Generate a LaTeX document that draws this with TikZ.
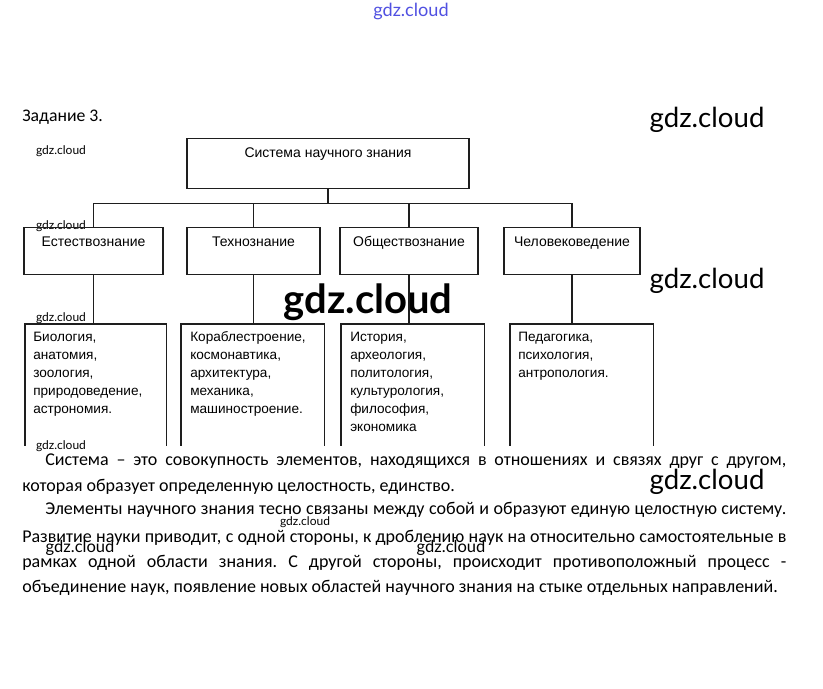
\documentclass[tikz,border=0pt]{standalone}
\usepackage{fontspec}
\setmainfont{Carlito}
\newfontfamily\boxfont{Liberation Sans}
\newfontfamily\wmfont{Lato}
\usepackage{xcolor}
\usepackage{tikz}
\usetikzlibrary{positioning, calc}
\definecolor{wmblue}{RGB}{80,80,225}
\definecolor{linegray}{RGB}{30,30,30}
\frenchspacing

\begin{document}
\begin{tikzpicture}[x=0.75pt, y=-0.75pt,
    topbox/.style={rectangle, draw=linegray, line width=0.8pt, inner xsep=0pt, inner ysep=0pt, text height=14.25pt, text depth=23.25pt, font=\boxfont\fontsize{10.5}{12}\selectfont},
    field/.style={rectangle, draw=linegray, line width=0.8pt, inner xsep=0pt, inner ysep=0pt, text height=14.25pt, text depth=21pt, font=\boxfont\fontsize{10.5}{12}\selectfont},
    listbox/.style={rectangle, inner sep=0pt, minimum height=90.75pt, anchor=north west},
    listtxt/.style={anchor=north west, inner sep=0pt, align=left, font=\boxfont\fontsize{10.2}{13.5}\selectfont, execute at begin node=\rule{0pt}{8.5pt}},
    conn/.style={draw=linegray, line width=0.8pt},
    para/.style={anchor=base west, inner sep=0pt, font=\fontsize{13.5}{16}\selectfont},
    wm/.style={inner sep=0pt, font=\wmfont}
]
\useasboundingbox (0,0) rectangle (823,688);

% watermarks
\node[wm, wmblue, font=\wmfont\fontsize{13.6}{15}\selectfont] (wmtop) at (411,11) {gdz.cloud};
\node[wm, font=\wmfont\fontsize{20.7}{24}\selectfont] (wma) at (707,120) {gdz.cloud};
\node[wm, font=\wmfont\fontsize{20.7}{24}\selectfont] (wmb) at (707,281) {gdz.cloud};
\node[wm, font=\wmfont\fontsize{20.7}{24}\selectfont] (wmc) at (707,482) {gdz.cloud};
\node[wm, font=\wmfont\bfseries\fontsize{30}{34}\selectfont] (wmmid) at (368,302) {gdz.cloud};
\node[wm, font=\wmfont\fontsize{9}{11}\selectfont] (wm1) at (61,151) {gdz.cloud};
\node[wm, font=\wmfont\fontsize{9}{11}\selectfont] (wm2) at (61,226) {gdz.cloud};
\node[wm, font=\wmfont\fontsize{9}{11}\selectfont] (wm3) at (61,318) {gdz.cloud};
\node[wm, font=\wmfont\fontsize{9}{11}\selectfont] (wm4) at (61,446) {gdz.cloud};
\node[wm, font=\wmfont\fontsize{9}{11}\selectfont] (wm5) at (305,522) {gdz.cloud};
\node[wm, font=\wmfont\fontsize{12.4}{14}\selectfont] (wm6) at (80,548) {gdz.cloud};
\node[wm, font=\wmfont\fontsize{12.4}{14}\selectfont] (wm7) at (451,548) {gdz.cloud};

\node[anchor=base west, inner sep=0pt, font=\fontsize{13.3}{15}\selectfont] (task) at (22,122) {Задание 3.};

% tree
\node[topbox, minimum width=211.5pt, anchor=north] (sys) at (328,138) {Система научного знания};
\node[field, minimum width=104.25pt, anchor=north] (est) at (93.5,227) {Естествознание};
\node[field, minimum width=99.75pt, anchor=north] (tech) at (253.5,227) {Технознание};
\node[field, minimum width=103.5pt, anchor=north] (obsh) at (409,227) {Обществознание};
\node[field, minimum width=102pt, anchor=north] (chel) at (572,227) {Человековедение};
\coordinate (bus) at ($(sys.south)+(0,14)$);

\node[listbox, minimum width=105.75pt] (lest) at (25,324) {};
\node[listbox, minimum width=107.25pt] (ltech) at (181,324) {};
\node[listbox, minimum width=107.25pt] (lobsh) at (341,324) {};
\node[listbox, minimum width=107.25pt] (lchel) at (510,324) {};

\node[listtxt] (test) at ($(lest.north west)+(8,7.5)$) {Биология,\\анатомия,\\зоология,\\природоведение,\\астрономия.};
\node[listtxt] (ttech) at ($(ltech.north west)+(9,7.5)$) {Кораблестроение,\\космонавтика,\\архитектура,\\механика,\\машиностроение.};
\node[listtxt] (tobsh) at ($(lobsh.north west)+(9,7.5)$) {История,\\археология,\\политология,\\культурология,\\философия,\\экономика};
\node[listtxt] (tchel) at ($(lchel.north west)+(8,7.5)$) {Педагогика,\\психология,\\антропология.};

\draw[conn] (sys.south) -- (bus);
\draw[conn] (bus) -| (est.north);
\draw[conn] (bus) -| (tech.north);
\draw[conn] (bus) -| (obsh.north);
\draw[conn] (bus) -| (chel.north);
\foreach \f/\l in {est/lest, tech/ltech, obsh/lobsh, chel/lchel}{
  \draw[conn] (\f.south) -- (\f.south |- \l.north);
  \draw[conn] (\l.south west) -- (\l.north west) -- (\l.north east) -- (\l.south east);
}

% text below the scheme
\node[para] (p1) at (45,465) {\makebox[555.75pt][s]{Система – это совокупность элементов, находящихся в отношениях и связях друг с другом,}};
\node[para] (p2) at (22,491) {которая образует определенную целостность, единство.};
\node[para] (p3) at (45,514) {\makebox[555.75pt][s]{Элементы научного знания тесно связаны между собой и образуют единую целостную систему.}};
\node[para] (p4) at (22,542) {\makebox[573pt][s]{Развитие науки приводит, с одной стороны, к дроблению наук на относительно самостоятельные в}};
\node[para] (p5) at (22,567) {\makebox[573pt][s]{рамках одной области знания. С другой стороны, происходит противоположный процесс -}};
\node[para] (p6) at (22,592) {объединение наук, появление новых областей научного знания на стыке отдельных направлений.};
\end{tikzpicture}
\end{document}
